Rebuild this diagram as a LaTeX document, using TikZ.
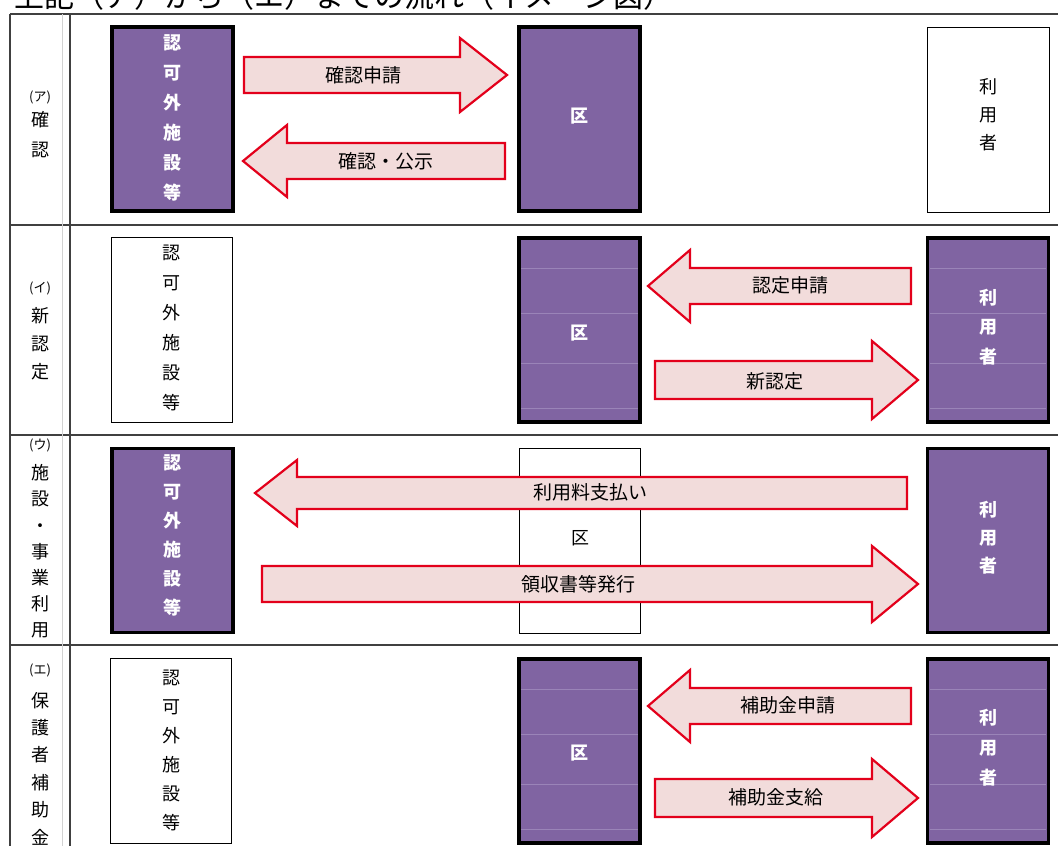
\documentclass[tikz,border=0pt]{standalone}
\usepackage{fontspec}
\setmainfont{Noto Sans CJK JP}
\definecolor{purp}{HTML}{8064A2}
\definecolor{purpl}{HTML}{9A84B8}
\definecolor{apink}{HTML}{F2DCDB}
\definecolor{ared}{HTML}{E3001B}
\definecolor{gridc}{HTML}{404040}
\newcommand\blockarrow[6]{\draw[barrow] ({#1},{#4-#5}) -- ({#2},{#4-#5}) -- ({#2},{#4-#6}) -- ({#3},{#4}) -- ({#2},{#4+#6}) -- ({#2},{#4+#5}) -- ({#1},{#4+#5}) -- cycle;}
\newcommand\faintlines[3]{\foreach \o in {30,75,125,170} {\draw[faint] ({#1},{#3+\o}) -- ({#2},{#3+\o});}}
\begin{document}
\begin{tikzpicture}[x=1pt,y=-1pt,
  pbox/.style={draw=black,line width=3.5pt,fill=purp,minimum width=121pt,minimum height=184pt,inner sep=0pt},
  wbox/.style={draw=black,line width=1pt,fill=white,minimum width=122pt,minimum height=185pt,inner sep=0pt},
  ptxt/.style={text=white,font=\bfseries\fontsize{18}{30}\selectfont,align=center,inner sep=0pt},
  wtxt/.style={text=black,font=\fontsize{18}{30}\selectfont,align=center,inner sep=0pt},
  lbl/.style={text=black,font=\fontsize{18}{#1}\selectfont,align=center,inner sep=0pt},
  plbl/.style={text=black,font=\fontsize{13}{13}\selectfont,inner sep=0pt},
  barrow/.style={draw=ared,line width=2.2pt,fill=apink,line join=miter},
  alabel/.style={font=\fontsize{19}{19}\selectfont,text=black,inner sep=0pt},
  grid/.style={draw=gridc,line width=1.4pt},
  faint/.style={draw=purpl,line width=1pt}]
\useasboundingbox (0,0) rectangle (1058,846);
\fill[white] (0,0) rectangle (1058,846);
% title (cut off at top)
\node[anchor=base west,inner sep=0pt,font=\fontsize{30}{30}\selectfont] (title) at (14,7) {上記（ア）から（エ）までの流れ（イメージ図）};
% grid
\draw[grid,line width=2pt] (10,14) -- (1058,14);
\draw[grid] (10,225) -- (1058,225);
\draw[grid] (10,435) -- (1058,435);
\draw[grid] (10,645) -- (1058,645);
\draw[grid] (10,14) -- (10,846);
\draw[grid] (70,14) -- (70,846);
\draw[draw=gray!35,line width=0.8pt] (62,14) -- (62,846);
% left column labels
\node[plbl] (la) at (40,97) {(ア)};
\node[lbl=30] (la2) at (40,135) {確\\認};
\node[plbl] (lb) at (40,288) {(イ)};
\node[lbl=28] (lb2) at (40,344) {新\\認\\定};
\node[plbl] (lc) at (40,445) {(ウ)};
\node[lbl=26.2] (lc2) at (40,551.5) {施\\設\\・\\事\\業\\利\\用};
\node[plbl] (ld) at (40,670) {(エ)};
\node[lbl=27.4] (ld2) at (40,768.5) {保\\護\\者\\補\\助\\金};
% row 1
\node[pbox] (k1) at (172.5,119) {};
\node[ptxt] (k1t) at (172.5,118) {認\\可\\外\\施\\設\\等};
\node[pbox] (ku1) at (579.5,119) {};
\node[ptxt] (ku1t) at (579.5,116) {区};
\node[wbox] (r1) at (988,119.5) {};
\node[wtxt,font=\fontsize{18}{28}\selectfont] (r1t) at (988,115) {利\\用\\者};
\blockarrow{244}{460}{507}{75}{18}{37}
\node[alabel] (a1) at (363,75) {確認申請};
\blockarrow{505}{287}{243}{161}{18}{36}
\node[alabel] (a2) at (386,161) {確認・公示};
% row 2
\node[wbox,minimum width=121pt] (k2) at (171.5,330) {};
\node[wtxt] (k2t) at (171.5,328) {認\\可\\外\\施\\設\\等};
\node[pbox] (ku2) at (579.5,330) {};
\faintlines{521}{638}{238}
\node[ptxt] (ku2t) at (579.5,333) {区};
\node[pbox] (r2) at (988,330) {};
\faintlines{930}{1046}{238}
\node[ptxt,font=\bfseries\fontsize{18}{29.5}\selectfont] (r2t) at (988,327) {利\\用\\者};
\blockarrow{911}{690}{648}{286}{18}{36}
\node[alabel] (a3) at (790,285) {認定申請};
\blockarrow{655}{872}{918}{380}{19}{39}
\node[alabel] (a4) at (775,381) {新認定};
% row 3
\node[pbox] (k3) at (172.5,540.5) {};
\node[ptxt,font=\bfseries\fontsize{18}{29}\selectfont] (k3t) at (172.5,535) {認\\可\\外\\施\\設\\等};
\node[wbox,minimum width=121pt] (ku3) at (580,540.5) {};
\node[wtxt] (ku3t) at (580,538) {区};
\node[pbox] (r3) at (988,540.5) {};
\node[ptxt,font=\bfseries\fontsize{18}{28}\selectfont] (r3t) at (988,538) {利\\用\\者};
\blockarrow{907}{297}{255}{493}{16}{33}
\node[alabel] (a5) at (590,492) {利用料支払い};
\blockarrow{262}{872}{918}{584}{18}{38}
\node[alabel] (a6) at (578,584) {領収書等発行};
% row 4
\node[wbox,minimum width=121pt] (k4) at (171,751) {};
\node[wtxt,font=\fontsize{18}{29}\selectfont] (k4t) at (171,750) {認\\可\\外\\施\\設\\等};
\node[pbox] (ku4) at (579.5,751) {};
\faintlines{521}{638}{659}
\node[ptxt] (ku4t) at (579.5,753) {区};
\node[pbox] (r4) at (988,751) {};
\faintlines{930}{1046}{659}
\node[ptxt,font=\bfseries\fontsize{18}{30}\selectfont] (r4t) at (988,748) {利\\用\\者};
\blockarrow{911}{690}{648}{706}{18}{36}
\node[alabel] (a7) at (788,705) {補助金申請};
\blockarrow{655}{872}{918}{798}{19}{39}
\node[alabel] (a8) at (776,797) {補助金支給};
\end{tikzpicture}
\end{document}
